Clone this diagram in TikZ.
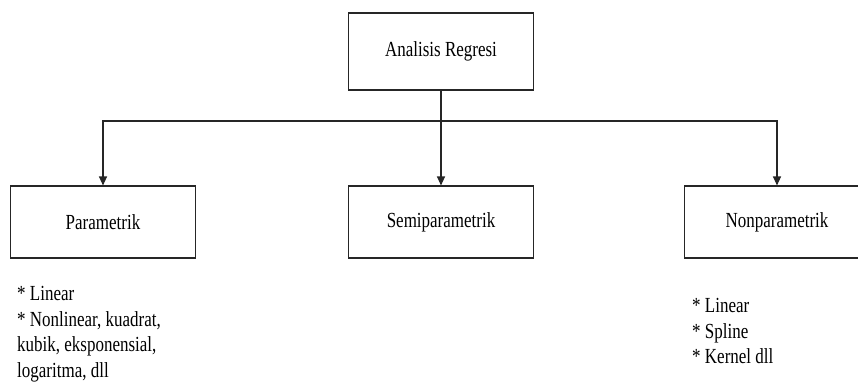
\documentclass[tikz,border=0pt]{standalone}
\usepackage{fontspec}
\setmainfont[FakeStretch=0.79]{Liberation Serif}
\usepackage{tikz}
\usetikzlibrary{positioning, arrows.meta, calc}

\begin{document}
\begin{tikzpicture}[
    x=1pt, y=-1pt,
    box/.style={rectangle, draw=black!85, line width=1.1pt, minimum width=185pt, minimum height=#1, inner sep=0pt, align=center, font=\fontsize{21.5}{24}\selectfont},
    box/.default=72pt,
    items/.style={anchor=north west, inner sep=0pt, align=left, font=\fontsize{21.5}{25.7}\selectfont},
    link/.style={draw=black!85, line width=1.1pt},
    arr/.style={link, -{Triangle[length=9pt, width=8pt]}},
]
\useasboundingbox (0,0) rectangle (858,383);
\clip (0,0) rectangle (858,383);
% boxes
\node[box=77pt] (reg) at (441,51.5) {Analisis Regresi};
\node[box] (param) at (103,222) {Parametrik};
\node[box] (semi) at (441,222) {Semiparametrik};
\node[box] (nonparam) at (777,222) {Nonparametrik};
% connectors
\coordinate (split) at (441,121);
\draw[link] (reg.south) -- (split);
\draw[arr] (split) -| (param.north);
\draw[arr] (split) -- (semi.north);
\draw[arr] (split) -| (nonparam.north);
% lists
\node[items] (paramlist) at (17,286) {* Linear\\* Nonlinear, kuadrat,\\kubik, eksponensial,\\logaritma, dll};
\node[items] (nonparamlist) at (692,298) {* Linear\\* Spline\\* Kernel dll};
\end{tikzpicture}
\end{document}
